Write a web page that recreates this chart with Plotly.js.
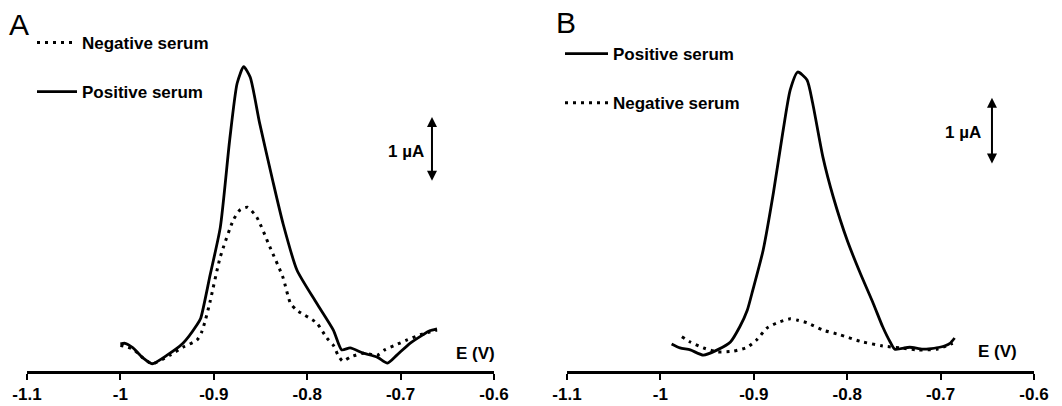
<!DOCTYPE html>
<html>
<head>
<meta charset="utf-8">
<script src="https://cdn.plot.ly/plotly-3.0.1.min.js"></script>
<style>html,body{margin:0;padding:0;background:#fff;}#chart{width:1062px;height:406px;}</style>
</head>
<body>
<div id="chart"></div>
<script>
// Panel A – potential (V) and current (µA above baseline)
const potA_neg = [-1.000,-0.9865,-0.976,-0.966,-0.947,-0.933,-0.918,-0.913,-0.909,-0.904,-0.893,-0.879,-0.872,-0.864,-0.854,-0.840,-0.826,-0.818,-0.811,-0.790,-0.779,-0.772,-0.767,-0.762,-0.754,-0.740,-0.725,-0.717,-0.706,-0.693,-0.679,-0.669,-0.661];
const curA_neg = [0.39,0.33,0.20,0.11,0.24,0.36,0.47,0.59,0.77,1.05,1.73,2.29,2.44,2.48,2.33,1.88,1.42,1.03,0.92,0.73,0.50,0.39,0.24,0.15,0.21,0.27,0.24,0.32,0.39,0.47,0.55,0.59,0.62];
const potA_pos = [-1.000,-0.995,-0.9865,-0.976,-0.966,-0.950,-0.933,-0.918,-0.914,-0.904,-0.893,-0.883,-0.875,-0.868,-0.861,-0.851,-0.837,-0.826,-0.811,-0.790,-0.772,-0.763,-0.754,-0.740,-0.725,-0.714,-0.704,-0.690,-0.676,-0.669,-0.661];
const curA_pos = [0.41,0.42,0.35,0.20,0.11,0.24,0.42,0.70,0.80,1.45,2.18,3.50,4.36,4.61,4.45,3.76,2.89,2.24,1.53,1.03,0.62,0.32,0.35,0.27,0.21,0.12,0.24,0.42,0.55,0.61,0.64];

// Panel B
const potB_pos = [-0.988,-0.979,-0.968,-0.954,-0.939,-0.925,-0.915,-0.907,-0.901,-0.890,-0.879,-0.869,-0.861,-0.853,-0.843,-0.837,-0.826,-0.815,-0.800,-0.786,-0.772,-0.762,-0.754,-0.749,-0.733,-0.719,-0.701,-0.690,-0.685];
const curB_pos = [0.41,0.35,0.32,0.24,0.32,0.44,0.67,0.92,1.23,1.83,2.70,3.61,4.26,4.53,4.41,4.06,3.24,2.64,1.98,1.48,1.02,0.67,0.44,0.33,0.36,0.33,0.36,0.42,0.50];
const potB_neg = [-0.977,-0.968,-0.954,-0.939,-0.922,-0.907,-0.897,-0.886,-0.875,-0.861,-0.853,-0.843,-0.826,-0.808,-0.786,-0.762,-0.743,-0.725,-0.704,-0.687];
const curB_neg = [0.52,0.44,0.35,0.29,0.30,0.36,0.47,0.65,0.73,0.79,0.77,0.73,0.62,0.55,0.45,0.38,0.35,0.32,0.33,0.42];

const tickVals = [-1.1,-1.0,-0.9,-0.8,-0.7,-0.6];
const tickText = ['-1.1','-1','-0.9','-0.8','-0.7','-0.6'];
const nameNeg = 'Negative serum';
const namePos = 'Positive serum';

const FONT = 'Liberation Sans, Arial, sans-serif';
const solid = {color:'#000', width:2.8, shape:'spline', smoothing:0.6};
const dotted = {color:'#000', width:3, dash:'3px,5px', shape:'spline', smoothing:0.6};

const traces = [
  {x:potA_neg, y:curA_neg, xaxis:'x', yaxis:'y', mode:'lines', name:nameNeg, line:dotted, legend:'legend', legendgroup:'a1'},
  {x:potA_pos, y:curA_pos, xaxis:'x', yaxis:'y', mode:'lines', name:namePos, line:solid, legend:'legend', legendgroup:'a2'},
  {x:potB_pos, y:curB_pos, xaxis:'x2', yaxis:'y2', mode:'lines', name:namePos, line:solid, legend:'legend2', legendgroup:'b1'},
  {x:potB_neg, y:curB_neg, xaxis:'x2', yaxis:'y2', mode:'lines', name:nameNeg, line:dotted, legend:'legend2', legendgroup:'b2'}
];

const yTop = 371/66;
function xax(domain, anchor){
  return {domain:domain, anchor:anchor, range:[-1.1,-0.6], showline:true, linecolor:'#000', linewidth:2.5,
    ticks:'outside', ticklen:6, tickwidth:2, tickcolor:'#000', tickvals:tickVals, ticktext:tickText,
    tickfont:{family:FONT, size:17, weight:'bold', color:'#000'}, showgrid:false, zeroline:false, fixedrange:true};
}
function yax(anchor){
  return {domain:[0,1], anchor:anchor, range:[0,yTop], visible:false, fixedrange:true};
}
const legFont = {family:FONT, size:17, weight:'bold', color:'#000'};
const txtFont = {family:FONT, size:17, weight:'bold', color:'#000'};

function arrow(xr, yr, x, y0, y1){
  return {xref:xr, yref:yr, axref:xr, ayref:yr, x:x, y:y0, ax:x, ay:y1, text:'', showarrow:true,
    arrowhead:2, arrowside:'end+start', arrowsize:1, arrowwidth:2, arrowcolor:'#000', standoff:0, startstandoff:0};
}

const layout = {
  width:1062, height:406, margin:{l:0, r:0, t:0, b:35},
  paper_bgcolor:'#fff', plot_bgcolor:'#fff', showlegend:true,
  xaxis: xax([27/1062, 494/1062], 'y'),
  yaxis: yax('x'),
  xaxis2: xax([567/1062, 1034/1062], 'y2'),
  yaxis2: yax('x2'),
  legend:{x:32/1062, y:(371-25)/371, xanchor:'left', yanchor:'top', font:legFont, tracegroupgap:24, traceorder:'grouped', itemwidth:40, bgcolor:'rgba(0,0,0,0)'},
  legend2:{x:560/1062, y:(371-36)/371, xanchor:'left', yanchor:'top', font:legFont, tracegroupgap:24, traceorder:'grouped', itemwidth:43, bgcolor:'rgba(0,0,0,0)'},
  annotations:[
    {xref:'paper', yref:'paper', x:19/1062, y:(371-25)/371, xanchor:'center', yanchor:'middle', text:'A', showarrow:false, font:{family:FONT, size:30, color:'#000'}},
    {xref:'paper', yref:'paper', x:566/1062, y:(371-23)/371, xanchor:'center', yanchor:'middle', text:'B', showarrow:false, font:{family:FONT, size:30, color:'#000'}},
    {xref:'x', yref:'y', x:-0.6193, y:0.27, text:'E (V)', showarrow:false, font:txtFont},
    {xref:'x2', yref:'y2', x:-0.6396, y:0.29, text:'E (V)', showarrow:false, font:txtFont},
    {xref:'x', yref:'y', x:-0.6942, y:3.32, text:'1 µA', showarrow:false, font:txtFont},
    {xref:'x2', yref:'y2', x:-0.676, y:3.61, text:'1 µA', showarrow:false, font:txtFont},
    arrow('x','y',-0.6664,3.85,2.86),
    arrow('x2','y2',-0.645,4.14,3.12)
  ]
};

Plotly.newPlot('chart', traces, layout, {staticPlot:true, displayModeBar:false});
</script>
</body>
</html>
